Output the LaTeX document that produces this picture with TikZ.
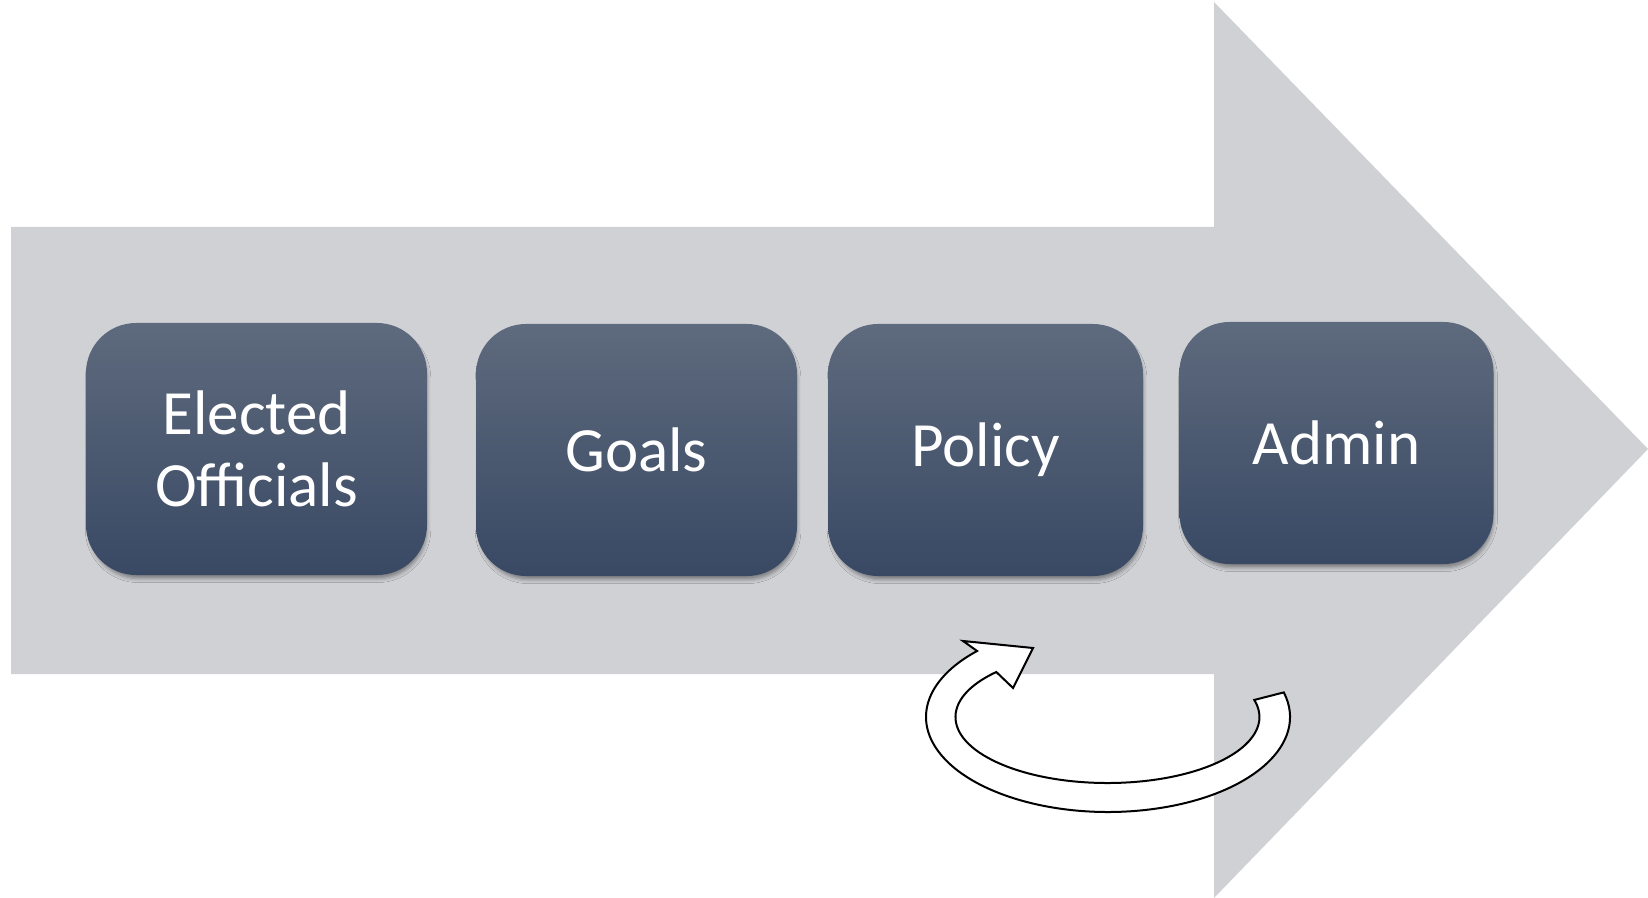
\documentclass[tikz,border=0pt]{standalone}
\usepackage{fontspec}
\setmainfont{Carlito}
\usetikzlibrary{shadows.blur}
\definecolor{arrowgray}{RGB}{208,209,213}
\definecolor{boxtop}{RGB}{94,106,125}
\definecolor{boxbot}{RGB}{57,73,100}
\tikzset{
  stagebox/.style={rounded corners=25pt, top color=boxtop, bottom color=boxbot,
    minimum height=126pt, text=white, align=center,
    font=\fontsize{31.5}{36}\selectfont,
    blur shadow={shadow xshift=0.8pt, shadow yshift=-2.5pt, shadow blur radius=2pt, shadow scale=0.99, shadow opacity=40}},
  cyclearrow/.style={fill=white, draw=black, line width=1pt, line join=miter}
}
\begin{document}
\begin{tikzpicture}[x=0.5pt,y=0.5pt]
\useasboundingbox (0,0) rectangle (1648,-898);
% big background arrow
\fill[arrowgray] (11,-227) -- (1214,-227) -- (1214,-2) -- (1648,-449) -- (1214,-898) -- (1214,-674) -- (11,-674) -- cycle;
% stage boxes
\node[stagebox, minimum width=170.5pt] (elected) at (256.5,-449) {Elected\\Officials};
\node[stagebox, minimum width=160.5pt] (goals) at (636.5,-450) {Goals};
\node[stagebox, minimum width=157.5pt] (policy) at (985.5,-450) {Policy};
\node[stagebox, minimum width=157pt, minimum height=121pt] (admin) at (1336.5,-443) {Admin};
% circular arrow
\coordinate (cyc) at (1108,-717);
\draw[cyclearrow] (1283.8,-692.4)
  arc[start angle=15, end angle=-224, x radius=182, y radius=95]
  -- (963,-641) -- (1033,-648) -- (1013,-688) -- (996.3,-672)
  arc[start angle=-223, end angle=15, x radius=152, y radius=66]
  -- cycle;
\end{tikzpicture}
\end{document}
